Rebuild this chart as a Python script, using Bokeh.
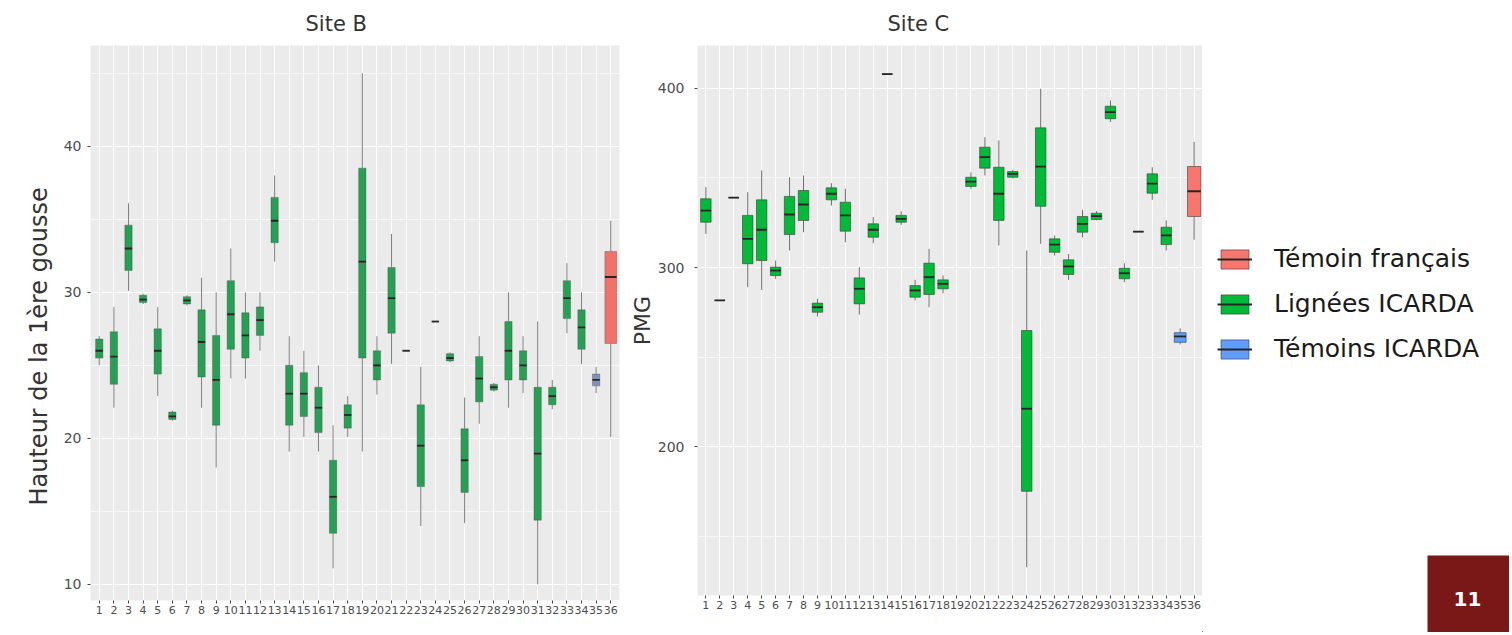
from bokeh.plotting import figure
from bokeh.layouts import row
from bokeh.models import (Range1d, FixedTicker, Legend, LegendItem, ColumnDataSource,
                          BoxAnnotation, Label, Title)
from bokeh.embed import file_html
from bokeh.resources import INLINE

# ---------------- data ----------------
lines = list(range(1, 37))
tick_labels = [str(i) for i in lines]
group_names = ["Témoin français", "Lignées ICARDA", "Témoins ICARDA"]

# Site B : hauteur de la 1ère gousse
b_lines = lines
b_group = ["Lignées ICARDA"] * 34 + ["Témoins ICARDA", "Témoin français"]
b_lower = [25.0, 22.1, 30.1, 29.2, 22.9, 21.2, 29.1, 22.1, 18.0, 24.1, 24.1, 26.0,
           32.1, 19.1, 20.1, 19.1, 11.1, 20.1, 19.1, 23.0, 25.1, 26.0, 14.0, 28.0,
           25.2, 14.2, 21.0, 23.2, 22.1, 23.1, 10.0, 22.0, 27.2, 25.1, 23.1, 20.1]
b_q1 = [25.5, 23.7, 31.5, 29.3, 24.4, 21.3, 29.2, 24.2, 20.9, 26.1, 25.5, 27.05,
        33.4, 20.9, 21.5, 20.4, 13.5, 20.7, 25.5, 24.0, 27.2, 26.0, 16.7, 28.0,
        25.3, 16.3, 22.5, 23.3, 24.0, 24.0, 14.4, 22.3, 28.2, 26.1, 23.6, 26.5]
b_median = [26.0, 25.6, 33.0, 29.5, 26.0, 21.5, 29.45, 26.6, 24.0, 28.5, 27.05, 28.1,
            34.9, 23.06, 23.06, 22.1, 16.0, 21.6, 32.1, 25.0, 29.6, 26.0, 19.5, 28.0,
            25.5, 18.5, 24.1, 23.5, 26.0, 25.0, 18.95, 22.9, 29.6, 27.6, 24.0, 31.05]
b_q3 = [26.8, 27.3, 34.6, 29.8, 27.5, 21.8, 29.7, 28.8, 27.05, 30.8, 28.6, 29.0,
        36.5, 25.0, 24.5, 23.5, 18.5, 22.3, 38.5, 26.0, 31.7, 26.0, 22.3, 28.0,
        25.8, 20.66, 25.6, 23.7, 28.0, 26.0, 23.5, 23.5, 30.8, 28.8, 24.4, 32.8]
b_upper = [27.0, 29.0, 36.1, 29.9, 29.0, 21.9, 29.8, 31.0, 30.0, 33.0, 30.0, 30.0,
           38.0, 27.0, 26.0, 25.0, 20.9, 22.9, 45.0, 27.0, 34.0, 26.0, 24.9, 28.0,
           25.9, 22.8, 27.0, 23.8, 30.0, 27.0, 28.0, 24.0, 32.0, 30.0, 24.9, 34.9]

# Site C : PMG (line 19 has no data)
c_lines = [i for i in lines if i != 19]
c_group = ["Lignées ICARDA"] * 33 + ["Témoins ICARDA", "Témoin français"]
c_lower = [318.8, 281.6, 339.0, 289.0, 287.5, 293.7, 309.5, 319.7, 272.6, 334.6, 314.1,
           273.7, 313.6, 408.0, 323.8, 281.6, 277.8, 285.6,
           344.0, 351.4, 312.3, 349.7, 132.6, 313.2, 306.7, 293.1, 316.9, 326.3,
           381.2, 291.8, 320.0, 337.8, 309.5, 257.0, 315.5]
c_q1 = [325.3, 281.6, 339.0, 302.1, 303.9, 295.5, 318.4, 326.3, 275.0, 337.8, 320.3,
        279.7, 316.9, 408.0, 325.3, 283.4, 284.9, 288.1,
        345.3, 355.5, 326.3, 350.4, 175.0, 334.2, 308.5, 296.1, 319.7, 326.8,
        383.1, 293.7, 320.0, 341.5, 312.8, 258.2, 328.5]
c_median = [331.8, 281.6, 339.0, 316.0, 321.1, 298.3, 329.6, 335.2, 277.8, 341.2, 329.1,
            288.1, 321.1, 408.0, 327.2, 287.2, 294.6, 290.9,
            348.0, 361.6, 341.2, 352.3, 221.1, 356.4, 312.8, 300.6, 324.4, 328.7,
            386.8, 296.8, 320.0, 346.8, 317.9, 261.5, 342.6]
c_q3 = [338.4, 281.6, 339.0, 329.1, 337.8, 300.2, 339.7, 343.0, 280.1, 344.5, 336.5,
        294.2, 324.4, 408.0, 329.1, 289.9, 302.4, 293.1,
        350.4, 367.2, 356.0, 353.6, 264.8, 378.0, 316.0, 304.3, 328.5, 330.3,
        390.1, 299.6, 320.0, 352.3, 322.5, 263.6, 356.4]
c_upper = [344.9, 281.6, 339.0, 342.1, 354.2, 303.9, 350.4, 351.4, 282.5, 347.1, 344.0,
           300.2, 328.1, 408.0, 331.4, 293.1, 310.4, 295.5,
           353.2, 372.8, 371.0, 354.5, 309.5, 399.8, 317.9, 307.6, 332.2, 331.5,
           393.3, 302.4, 320.0, 356.0, 326.3, 266.0, 370.2]

b_yticks = [10, 20, 30, 40]
b_yminor = [15, 25, 35, 45]
c_yticks = [200, 300, 400]
c_yminor = [150, 250, 350]

slide_number = "11"

# ---------------- styling ----------------
FONT = "DejaVu Sans"
PANEL = "#EBEBEB"
B_COL = {"Lignées ICARDA": "#27A055", "Témoins ICARDA": "#7F93BF", "Témoin français": "#F0736B"}
C_COL = {"Lignées ICARDA": "#00BA38", "Témoins ICARDA": "#619CFF", "Témoin français": "#F8766D"}
TOTAL_H = 632


def make_panel(title, title_offset, xs, grp, lo, q1, med, q3, hi, yr, yticks, yminor,
               ylabel, label_standoff, ytick_standoff, frame_w, frame_h,
               mb_left, mb_right, mb_top, colors, widths, whisker_col, edge_alpha):
    p = figure(frame_width=frame_w, frame_height=frame_h,
               x_range=Range1d(0.4, 36.6), y_range=Range1d(*yr),
               output_backend="svg", toolbar_location=None,
               min_border_left=mb_left, min_border_right=mb_right,
               min_border_top=mb_top, min_border_bottom=TOTAL_H - mb_top - frame_h)
    p.background_fill_color = PANEL
    p.border_fill_color = "white"
    p.outline_line_color = None

    p.title.text = title
    p.title.align = "left"
    p.title.offset = title_offset
    p.title.text_font = FONT
    p.title.text_font_size = "21px"
    p.title.text_font_style = "normal"
    p.title.text_color = "#333333"
    p.title.standoff = 19

    p.xaxis.ticker = FixedTicker(ticks=lines)
    p.xaxis.major_label_overrides = {i: s for i, s in zip(lines, tick_labels)}
    p.yaxis.ticker = FixedTicker(ticks=yticks, minor_ticks=yminor)
    for ax in (p.xaxis, p.yaxis):
        ax.axis_line_color = None
        ax.major_tick_line_color = "#444444"
        ax.major_tick_in = 0
        ax.major_tick_out = 3
        ax.minor_tick_line_color = None
        ax.major_label_text_font = FONT
        ax.major_label_text_color = "#4D4D4D"
    p.xaxis.major_label_text_font_size = "11px"
    p.xaxis.major_label_standoff = 2
    p.yaxis.major_label_text_font_size = "14px"
    p.yaxis.major_label_standoff = ytick_standoff
    if ylabel:
        p.yaxis.axis_label = ylabel
        p.yaxis.axis_label_standoff = label_standoff
        p.yaxis.axis_label_text_font = FONT
        p.yaxis.axis_label_text_font_size = "22px"
        p.yaxis.axis_label_text_font_style = "normal"
        p.yaxis.axis_label_text_color = "#333333"

    p.xgrid.grid_line_color = "white"
    p.xgrid.grid_line_width = 1
    p.ygrid.grid_line_color = "white"
    p.ygrid.grid_line_width = 1.2
    p.ygrid.minor_grid_line_color = "white"
    p.ygrid.minor_grid_line_width = 0.6

    for g in group_names:
        idx = [k for k, gg in enumerate(grp) if gg == g]
        if not idx:
            continue
        w = widths[g]
        src = ColumnDataSource(dict(
            x=[xs[k] for k in idx],
            lo=[lo[k] for k in idx], q1=[q1[k] for k in idx], med=[med[k] for k in idx],
            q3=[q3[k] for k in idx], hi=[hi[k] for k in idx],
            left=[xs[k] - w / 2 for k in idx], right=[xs[k] + w / 2 for k in idx]))
        p.segment(x0="x", y0="q3", x1="x", y1="hi", source=src,
                  line_color=whisker_col, line_width=1)
        p.segment(x0="x", y0="q1", x1="x", y1="lo", source=src,
                  line_color=whisker_col, line_width=1)
        p.vbar(x="x", width=w, top="q3", bottom="q1", source=src,
               fill_color=colors[g], line_color="#333333",
               line_alpha=edge_alpha, line_width=0.7)
        p.segment(x0="left", y0="med", x1="right", y1="med", source=src,
                  line_color="#262626", line_width=1.8)
    return p


left = make_panel("Site B", 215, b_lines, b_group, b_lower, b_q1, b_median, b_q3, b_upper,
                  (8.9, 46.9), b_yticks, b_yminor, None,
                  label_standoff=12, ytick_standoff=5,
                  frame_w=529, frame_h=555, mb_left=90, mb_right=7, mb_top=45,
                  colors=B_COL,
                  widths={"Lignées ICARDA": 0.5, "Témoins ICARDA": 0.5, "Témoin français": 0.8},
                  whisker_col="#808080", edge_alpha=0.45)
# y-axis title of Site B, placed like the original (a little below the panel centre)
left.add_layout(Title(text="Hauteur de la 1ère gousse", align="left", offset=95,
                      standoff=16, text_font=FONT, text_font_size="24px",
                      text_font_style="normal", text_color="#333333"), "left")

right = make_panel("Site C", 190, c_lines, c_group, c_lower, c_q1, c_median, c_q3, c_upper,
                   (116.8, 424.0), c_yticks, c_yminor, "PMG",
                   label_standoff=0, ytick_standoff=9,
                   frame_w=505, frame_h=550, mb_left=65, mb_right=0, mb_top=45,
                   colors=C_COL,
                   widths={"Lignées ICARDA": 0.75, "Témoins ICARDA": 0.85, "Témoin français": 0.95},
                   whisker_col="#707070", edge_alpha=0.8)

# ---------------- legend + slide number panel ----------------
LW = 307
side = figure(width=LW, height=TOTAL_H,
              x_range=Range1d(0, LW), y_range=Range1d(0, TOTAL_H),
              output_backend="svg", toolbar_location=None,
              x_axis_location=None, y_axis_location=None, min_border=0)
side.frame_align = False
side.outline_line_color = None
side.xgrid.visible = False
side.ygrid.visible = False
side.background_fill_color = "white"
side.border_fill_color = "white"

items = []
for g in group_names:
    b = side.vbar(x=[-1000], top=[1], bottom=[0], width=1, fill_color=C_COL[g],
                  line_color="#333333", line_alpha=0.8, line_width=0.7)
    m = side.segment(x0=[-1000], y0=[0], x1=[-999], y1=[0],
                     line_color="#262626", line_width=1.8)
    items.append(LegendItem(label=g, renderers=[b, m]))

legend = Legend(items=items, location=(15, 269))
legend.label_text_font = FONT
legend.label_text_font_size = "25px"
legend.label_text_color = "#1A1A1A"
legend.glyph_width = 35
legend.glyph_height = 24
legend.label_height = 28
legend.label_standoff = 22
legend.spacing = 16
legend.padding = 3
legend.margin = 0
legend.border_line_color = None
legend.background_fill_color = "white"
side.add_layout(legend)

side.add_layout(BoxAnnotation(left=225, right=LW, bottom=0, top=77,
                              fill_color="#7A1717", fill_alpha=1.0, line_color=None))
side.add_layout(Label(x=265, y=34, text=slide_number, text_font=FONT,
                      text_font_size="20px", text_font_style="bold", text_color="white",
                      text_align="center", text_baseline="middle"))

layout = row(left, right, side, spacing=0)
open("out.html", "w").write(file_html(layout, INLINE))
